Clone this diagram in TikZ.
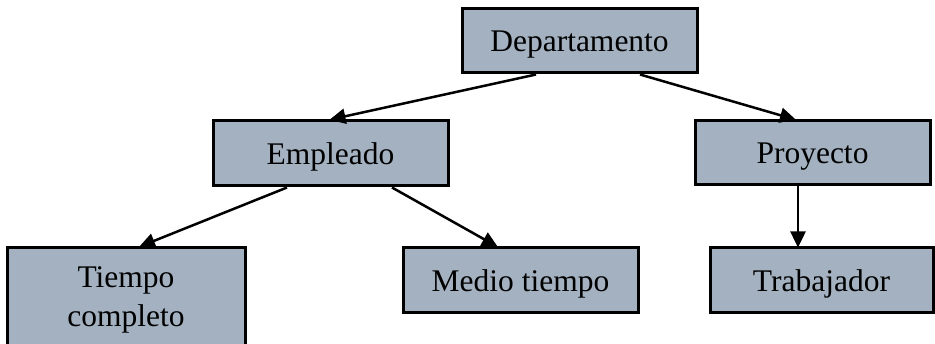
\documentclass[tikz,border=0pt]{standalone}
\usepackage{fontspec}
\setmainfont{Liberation Serif}
\usetikzlibrary{arrows.meta}
\definecolor{boxfill}{HTML}{A3B1C0}
\tikzset{
  box/.style={draw=black, line width=3pt, fill=boxfill, rectangle, inner sep=0pt,
    font=\fontsize{31.5}{37}\selectfont, align=center, text height=43pt, text depth=21pt},
  link/.style={line width=2.5pt, -{Triangle[length=16pt,width=15pt]}, shorten >=-1pt}
}
\begin{document}
\begin{tikzpicture}[x=1pt,y=-1pt]
\useasboundingbox (0,0) rectangle (935,344);
\begin{scope}
\clip (0,0) rectangle (935,344);
\node[box, minimum width=235pt, minimum height=64pt] (dep) at (579.5,41) {Departamento};
\node[box, minimum width=235pt, minimum height=65pt] (emp) at (330.5,153.5) {Empleado};
\node[box, minimum width=235pt, minimum height=64pt] (pro) at (812.5,153) {Proyecto};
\node[box, minimum width=238pt, minimum height=104pt, text height=62pt, text depth=42pt] (tc) at (126,300) {};
\node[font=\fontsize{31.5}{38.5}\selectfont, align=center, anchor=base] (tct) at (126,326.5) {Tiempo\\completo};
\node[box, minimum width=235pt, minimum height=65pt] (med) at (520.5,280.5) {Medio tiempo};
\node[box, minimum width=223pt, minimum height=65pt] (tra) at (821.5,280.5) {Trabajador};
\end{scope}
\draw[link] ([xshift=-43.5pt]dep.south) -- (emp.north);
\draw[link] ([xshift=60.5pt]dep.south) -- ([xshift=-17.5pt]pro.north);
\draw[link] ([xshift=-43.5pt]emp.south) -- ([xshift=14pt]tc.north);
\draw[link] ([xshift=61.5pt]emp.south) -- ([xshift=-23.5pt]med.north);
\draw[link] ([xshift=-14.5pt]pro.south) -- ([xshift=-23.5pt]tra.north);
\end{tikzpicture}
\end{document}
